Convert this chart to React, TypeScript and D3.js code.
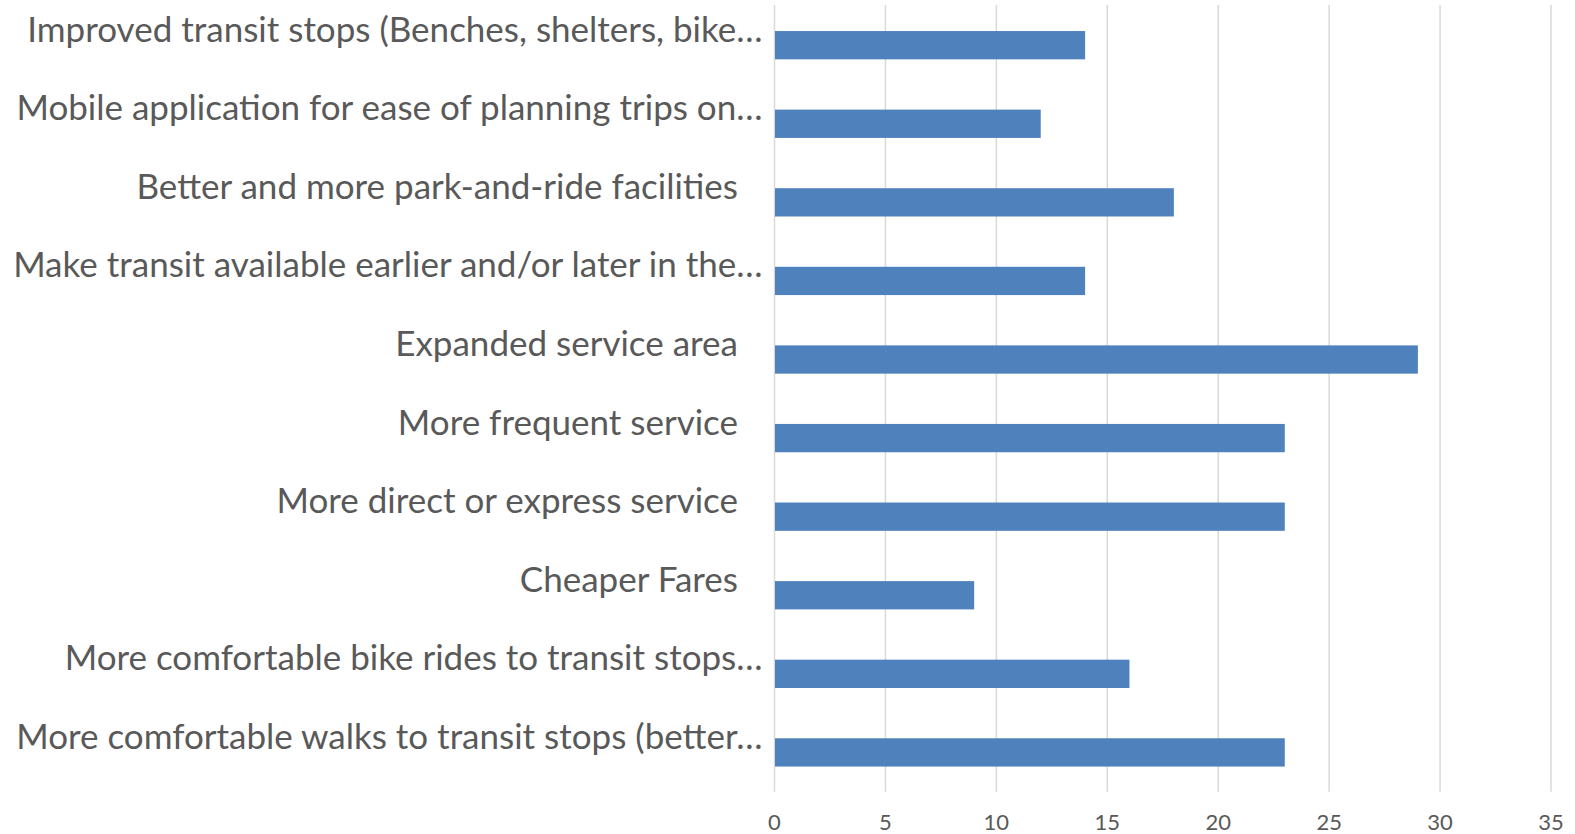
import React from "react";
import * as d3 from "d3";

const categories = [
  "Improved transit stops (Benches, shelters, bike…",
  "Mobile application for ease of planning trips on…",
  "Better and more park-and-ride facilities",
  "Make transit available earlier and/or later in the…",
  "Expanded service area",
  "More frequent service",
  "More direct or express service",
  "Cheaper Fares",
  "More comfortable bike rides to transit stops…",
  "More comfortable walks to transit stops (better…",
];
const values = [14, 12, 18, 14, 29, 23, 23, 9, 16, 23];
const xTicks = [0, 5, 10, 15, 20, 25, 30, 35];

const W = 1575;
const H = 834;
const plotLeft = 774.5;
const plotRight = 1551;
const plotTop = 5.9;
const plotBottom = 791.7;

export default function App() {
  const x = d3.scaleLinear().domain([0, 35]).range([plotLeft, plotRight]);
  const y = d3
    .scaleBand<string>()
    .domain(categories)
    .range([plotTop, plotBottom])
    .paddingInner(0.64)
    .paddingOuter(0.32);
  const font = "Lato, 'Open Sans', sans-serif";
  return (
    <svg
      width={W}
      height={H}
      style={{ position: "absolute", left: 0, top: 0, background: "#fff" }}
    >
      {xTicks.map((t) => (
        <line
          key={t}
          x1={x(t)}
          x2={x(t)}
          y1={plotTop - 1}
          y2={plotBottom}
          stroke="#D9D9D9"
          strokeWidth={1.5}
        />
      ))}
      {categories.map((c, i) => (
        <rect
          key={c}
          x={x(0) + 0.5}
          y={y(c)!}
          width={x(values[i]) - x(0) - 0.5}
          height={y.bandwidth()}
          fill="#4F81BD"
        />
      ))}
      {categories.map((c) => {
        const cy = y(c)! + y.bandwidth() / 2;
        const ell = c.endsWith("…");
        return (
          <text
            key={c}
            x={ell ? 762.5 : 738}
            y={cy - 3.5}
            textAnchor="end"
            fontFamily={font}
            fontSize={35}
            fill="#595959"
          >
            {c}
          </text>
        );
      })}
      {xTicks.map((t) => (
        <text
          key={t}
          x={x(t)}
          y={829.5}
          textAnchor="middle"
          fontFamily={font}
          fontSize={22}
          fill="#595959"
        >
          {t}
        </text>
      ))}
    </svg>
  );
}
